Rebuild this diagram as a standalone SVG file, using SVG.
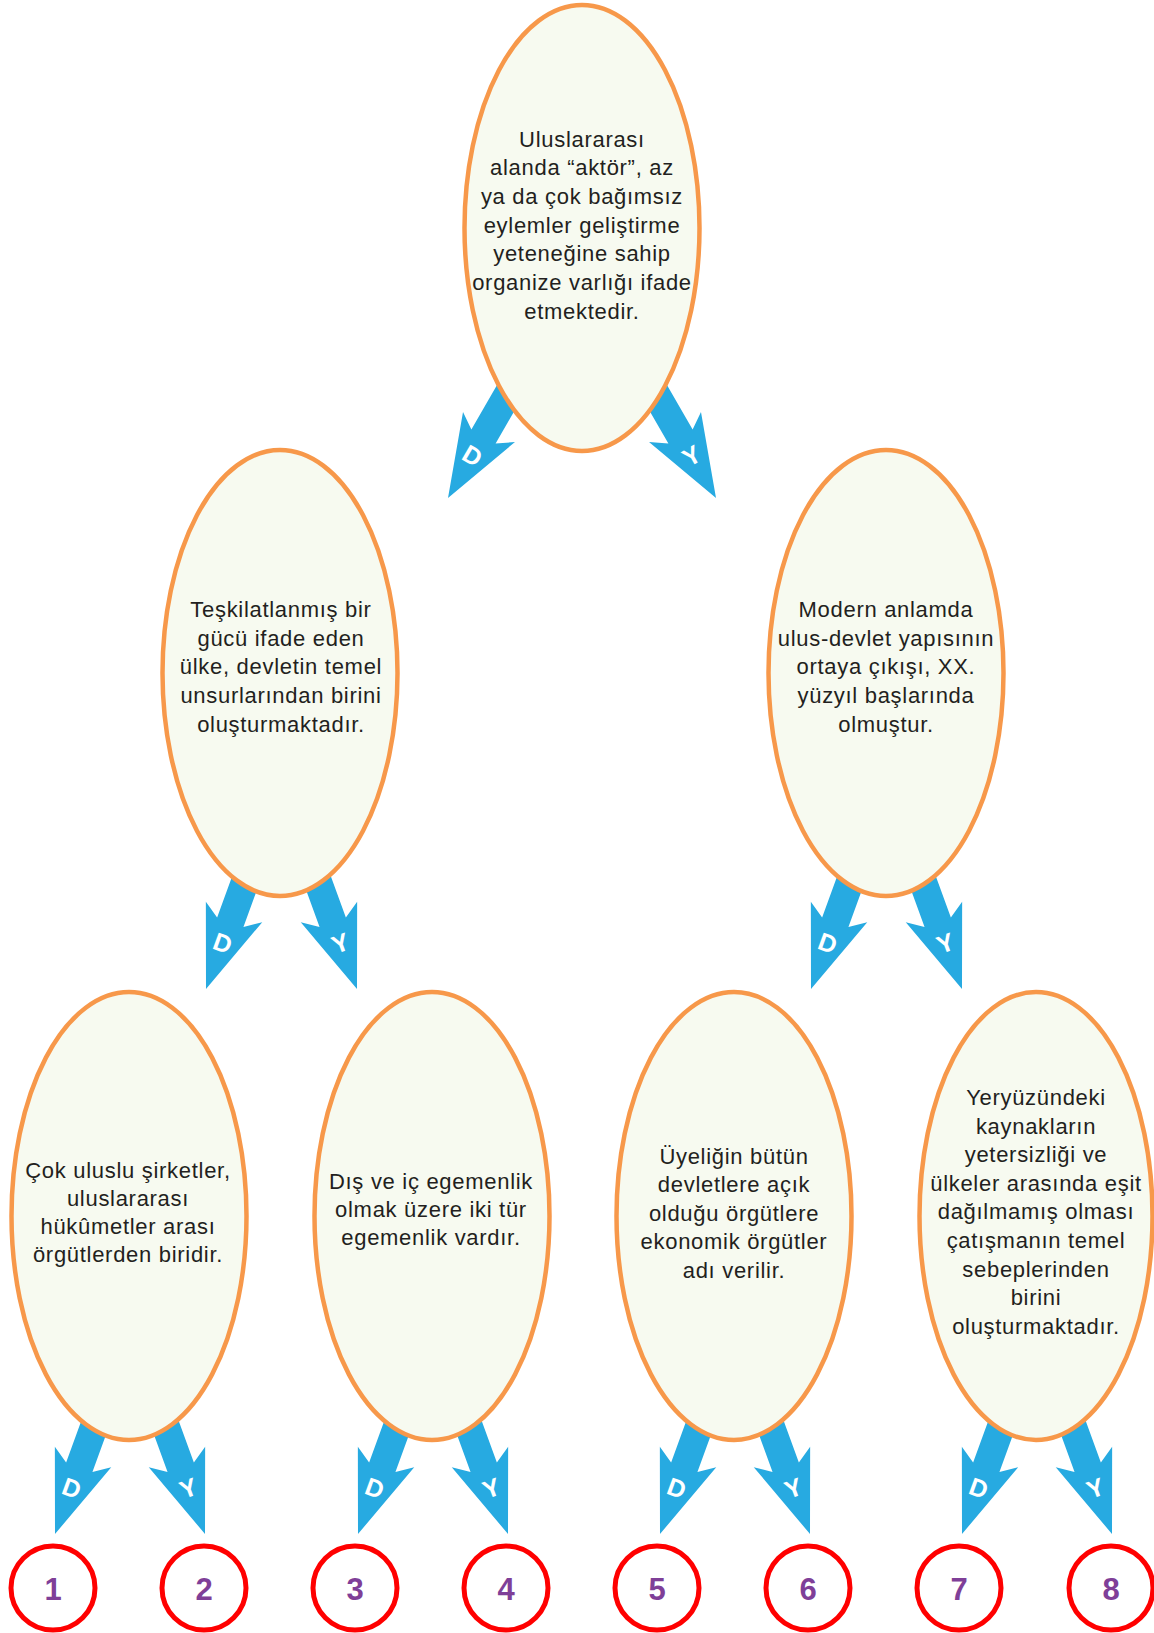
<svg xmlns="http://www.w3.org/2000/svg" width="1154" height="1633" viewBox="0 0 1154 1633">
<style>
.bg{fill:#ffffff}
.arrow{fill:#27aae1}
.al{fill:#ffffff;font-family:"Liberation Sans",Arial,sans-serif;font-weight:bold;font-size:25px;text-anchor:middle}
.node ellipse{fill:#f7faf0;stroke:#f7984a;stroke-width:4.5}
.node text{fill:#231f20;font-family:"Liberation Sans",Arial,sans-serif;font-size:22px;letter-spacing:0.7px;text-anchor:middle}
.ans circle{fill:#ffffff;stroke:#ff0000;stroke-width:5}
.ans text{fill:#7f3f98;font-family:"Liberation Sans",Arial,sans-serif;font-weight:bold;font-size:31px;text-anchor:middle}
</style>
<defs>
<path id="arr" d="M0,0 L-30,-82 L-14,-71 L-14,-165 L14,-165 L14,-71 L30,-82 Z"/>
</defs>
<rect class="bg" x="0" y="0" width="1154" height="1633"/>
<g id="connectors">
<g transform="translate(448,498) rotate(30)"><use href="#arr" class="arrow"/><text class="al" x="0" y="-40">D</text></g>
<g transform="translate(716,498) rotate(-30)"><use href="#arr" class="arrow"/><text class="al" x="0" y="-40">Y</text></g>
<g transform="translate(206,989) rotate(20)"><use href="#arr" class="arrow"/><text class="al" x="0" y="-40">D</text></g>
<g transform="translate(357,989) rotate(-20)"><use href="#arr" class="arrow"/><text class="al" x="0" y="-40">Y</text></g>
<g transform="translate(811,989) rotate(20)"><use href="#arr" class="arrow"/><text class="al" x="0" y="-40">D</text></g>
<g transform="translate(962,989) rotate(-20)"><use href="#arr" class="arrow"/><text class="al" x="0" y="-40">Y</text></g>
<g transform="translate(55,1534) rotate(20)"><use href="#arr" class="arrow"/><text class="al" x="0" y="-40">D</text></g>
<g transform="translate(205,1534) rotate(-20)"><use href="#arr" class="arrow"/><text class="al" x="0" y="-40">Y</text></g>
<g transform="translate(358,1534) rotate(20)"><use href="#arr" class="arrow"/><text class="al" x="0" y="-40">D</text></g>
<g transform="translate(508,1534) rotate(-20)"><use href="#arr" class="arrow"/><text class="al" x="0" y="-40">Y</text></g>
<g transform="translate(660,1534) rotate(20)"><use href="#arr" class="arrow"/><text class="al" x="0" y="-40">D</text></g>
<g transform="translate(810,1534) rotate(-20)"><use href="#arr" class="arrow"/><text class="al" x="0" y="-40">Y</text></g>
<g transform="translate(962,1534) rotate(20)"><use href="#arr" class="arrow"/><text class="al" x="0" y="-40">D</text></g>
<g transform="translate(1112,1534) rotate(-20)"><use href="#arr" class="arrow"/><text class="al" x="0" y="-40">Y</text></g>
</g>
<g id="node-top" class="node">
<ellipse cx="582" cy="228" rx="117.5" ry="223"/>
<text x="582" y="146.5">Uluslararası</text>
<text x="582" y="175.2">alanda “aktör”, az</text>
<text x="582" y="203.9">ya da çok bağımsız</text>
<text x="582" y="232.6">eylemler geliştirme</text>
<text x="582" y="261.3">yeteneğine sahip</text>
<text x="582" y="290">organize varlığı ifade</text>
<text x="582" y="318.7">etmektedir.</text>
</g>
<g id="node-mid-left" class="node">
<ellipse cx="280" cy="673" rx="117.5" ry="223"/>
<text x="281" y="616.7">Teşkilatlanmış bir</text>
<text x="281" y="645.5">gücü ifade eden</text>
<text x="281" y="674.3">ülke, devletin temel</text>
<text x="281" y="703.1">unsurlarından birini</text>
<text x="281" y="731.9">oluşturmaktadır.</text>
</g>
<g id="node-mid-right" class="node">
<ellipse cx="886" cy="673" rx="117.5" ry="223"/>
<text x="886" y="616.7">Modern anlamda</text>
<text x="886" y="645.5">ulus-devlet yapısının</text>
<text x="886" y="674.3">ortaya çıkışı, XX.</text>
<text x="886" y="703.1">yüzyıl başlarında</text>
<text x="886" y="731.9">olmuştur.</text>
</g>
<g id="node-b1" class="node">
<ellipse cx="129" cy="1216" rx="117.5" ry="224"/>
<text x="128" y="1177.5">Çok uluslu şirketler,</text>
<text x="128" y="1205.5">uluslararası</text>
<text x="128" y="1233.5">hükûmetler arası</text>
<text x="128" y="1261.5">örgütlerden biridir.</text>
</g>
<g id="node-b2" class="node">
<ellipse cx="432" cy="1216" rx="117.5" ry="224"/>
<text x="431" y="1189.3">Dış ve iç egemenlik</text>
<text x="431" y="1217.3">olmak üzere iki tür</text>
<text x="431" y="1245.3">egemenlik vardır.</text>
</g>
<g id="node-b3" class="node">
<ellipse cx="734" cy="1216" rx="117.5" ry="224"/>
<text x="734" y="1163.5">Üyeliğin bütün</text>
<text x="734" y="1192">devletlere açık</text>
<text x="734" y="1220.5">olduğu örgütlere</text>
<text x="734" y="1249">ekonomik örgütler</text>
<text x="734" y="1277.5">adı verilir.</text>
</g>
<g id="node-b4" class="node">
<ellipse cx="1036" cy="1216" rx="116.5" ry="224"/>
<text x="1036" y="1105">Yeryüzündeki</text>
<text x="1036" y="1133.6">kaynakların</text>
<text x="1036" y="1162.2">yetersizliği ve</text>
<text x="1036" y="1190.8">ülkeler arasında eşit</text>
<text x="1036" y="1219.4">dağılmamış olması</text>
<text x="1036" y="1248">çatışmanın temel</text>
<text x="1036" y="1276.6">sebeplerinden</text>
<text x="1036" y="1305.2">birini</text>
<text x="1036" y="1334">oluşturmaktadır.</text>
</g>
<g id="answer-1" class="ans"><circle cx="53" cy="1588" r="42"/><text x="53" y="1599.5">1</text></g>
<g id="answer-2" class="ans"><circle cx="204" cy="1588" r="42"/><text x="204" y="1599.5">2</text></g>
<g id="answer-3" class="ans"><circle cx="355" cy="1588" r="42"/><text x="355" y="1599.5">3</text></g>
<g id="answer-4" class="ans"><circle cx="506" cy="1588" r="42"/><text x="506" y="1599.5">4</text></g>
<g id="answer-5" class="ans"><circle cx="657" cy="1588" r="42"/><text x="657" y="1599.5">5</text></g>
<g id="answer-6" class="ans"><circle cx="808" cy="1588" r="42"/><text x="808" y="1599.5">6</text></g>
<g id="answer-7" class="ans"><circle cx="959" cy="1588" r="42"/><text x="959" y="1599.5">7</text></g>
<g id="answer-8" class="ans"><circle cx="1111" cy="1588" r="42"/><text x="1111" y="1599.5">8</text></g>
</svg>
